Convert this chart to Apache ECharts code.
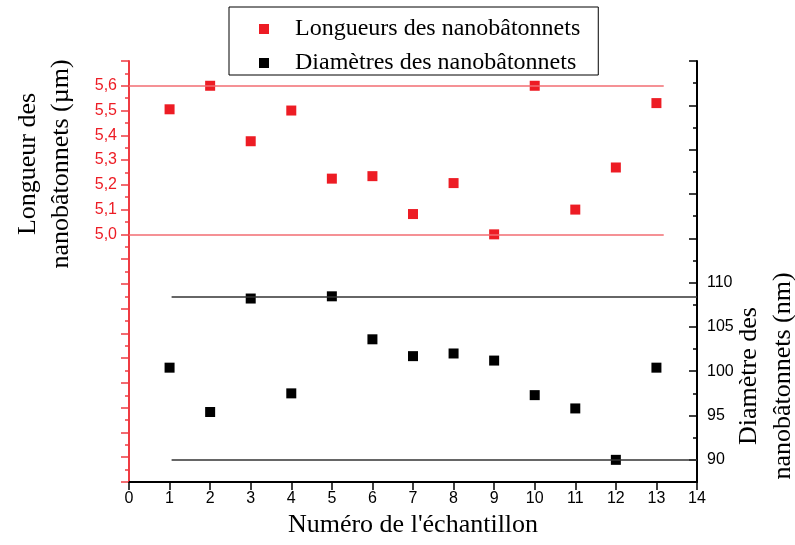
<!DOCTYPE html>
<html>
<head>
<meta charset="utf-8">
<script src="https://cdn.jsdelivr.net/npm/echarts@6/dist/echarts.min.js"></script>
<style>
  html, body { margin: 0; padding: 0; background: #fff; }
  #chart { width: 795px; height: 545px; }
</style>
</head>
<body>
<div id="chart"></div>
<script>
// numéro de l'échantillon
let samples = [1, 2, 3, 4, 5, 6, 7, 8, 9, 10, 11, 12, 13];
// longueur (µm) et diamètre (nm)
let longueurs = [5.505, 5.60, 5.376, 5.50, 5.225, 5.235, 5.082, 5.207, 5.00, 5.60, 5.10, 5.27, 5.53];
let diametres = [100.4, 95.4, 108.2, 97.5, 108.45, 103.6, 101.7, 102.0, 101.2, 97.3, 95.8, 90.0, 100.4];
let diamLabels = [90, 95, 100, 105, 110];
let diamMajorTicks = [90, 95, 100, 105, 110, 115, 120, 125, 130, 135];

let serif = '"Liberation Serif", "Times New Roman", serif';
let sans = '"Liberation Sans", Arial, sans-serif';
let red = '#ed1c24';

let chartDom = document.getElementById('chart');
let myChart = echarts.init(chartDom);

function pairs(xs, ys) {
    var out = [];
    for (var i = 0; i < xs.length; i++) {
        out.push([xs[i], ys[i]]);
    }
    return out;
}

let lMax = Math.max.apply(null, longueurs);
let lMin = Math.min.apply(null, longueurs);
let dMax = Math.max.apply(null, diametres);
let dMin = Math.min.apply(null, diametres);

option = {
    animation: false,
    grid: { left: 129, right: 98, top: 61, bottom: 63 },
    legend: {
        orient: 'vertical',
        left: 229,
        top: 7,
        padding: [10, 18, 0, 30],
        itemGap: 10,
        itemWidth: 10,
        itemHeight: 10,
        borderColor: '#000',
        borderWidth: 1,
        textStyle: {
            fontFamily: serif,
            fontSize: 24,
            color: '#000',
            padding: [0, 0, 0, 21]
        },
        data: [
            { name: 'Longueurs des nanobâtonnets', icon: 'rect' },
            { name: 'Diamètres des nanobâtonnets', icon: 'rect' }
        ]
    },
    xAxis: {
        type: 'value',
        min: 0,
        max: 14,
        interval: 1,
        name: "Numéro de l'échantillon",
        nameLocation: 'middle',
        nameGap: 29,
        nameTextStyle: { fontFamily: serif, fontSize: 26, color: '#000' },
        axisLine: { show: true, lineStyle: { color: '#000', width: 2 } },
        axisTick: { show: true, inside: false, length: 8, lineStyle: { color: '#000', width: 1.5 } },
        axisLabel: { fontFamily: sans, fontSize: 16, color: '#000', margin: 9 },
        splitLine: { show: false }
    },
    yAxis: [
        {
            type: 'value',
            position: 'left',
            min: 4.0,
            max: 5.7,
            interval: 0.1,
            axisLine: { show: true, lineStyle: { color: '#ef3b42', width: 2 } },
            axisTick: { show: true, inside: false, length: 8, lineStyle: { color: '#ef3b42', width: 1.5 } },
            minorTick: { show: true, splitNumber: 2, length: 4, lineStyle: { color: '#ef3b42', width: 1.5 } },
            axisLabel: {
                fontFamily: sans, fontSize: 16, color: red, margin: 12,
                formatter: function (v) {
                    return (v >= 4.99 && v <= 5.61) ? v.toFixed(1).replace('.', ',') : '';
                }
            },
            splitLine: { show: false }
        },
        {
            type: 'value',
            position: 'right',
            min: 87.5,
            max: 135,
            interval: 2.5,
            axisLine: { show: true, lineStyle: { color: '#000', width: 2 } },
            axisTick: { show: true, inside: true, length: 4, lineStyle: { color: '#000', width: 1.5 } },
            axisLabel: { fontFamily: sans, fontSize: 16, color: '#000', margin: 10, customValues: diamLabels },
            splitLine: { show: false }
        },
        {
            type: 'value',
            position: 'right',
            min: 87.5,
            max: 135,
            axisLine: { show: false },
            axisTick: { show: true, inside: true, length: 8, customValues: diamMajorTicks, lineStyle: { color: '#000', width: 1.5 } },
            axisLabel: { show: false },
            splitLine: { show: false }
        }
    ],
    graphic: [
        {
            type: 'text',
            x: 45,
            y: 164,
            rotation: Math.PI / 2,
            style: {
                text: 'Longueur des\nnanobâtonnets (µm)',
                font: '26px ' + serif,
                fill: '#000',
                align: 'center',
                verticalAlign: 'middle',
                lineHeight: 33
            }
        },
        {
            type: 'text',
            x: 766,
            y: 376,
            rotation: Math.PI / 2,
            style: {
                text: 'Diamètre des\nnanobâtonnets (nm)',
                font: '26px ' + serif,
                fill: '#000',
                align: 'center',
                verticalAlign: 'middle',
                lineHeight: 34
            }
        }
    ],
    series: [
        {
            name: 'Longueurs des nanobâtonnets',
            type: 'scatter',
            yAxisIndex: 0,
            symbol: 'rect',
            symbolSize: 10,
            itemStyle: { color: red, opacity: 1 },
            data: pairs(samples, longueurs),
            markLine: {
                silent: true,
                symbol: 'none',
                label: { show: false },
                lineStyle: { color: '#f26d72', width: 1.5, type: 'solid', opacity: 1 },
                data: [
                    [{ coord: [0, lMax] }, { coord: [13.18, lMax] }],
                    [{ coord: [0, lMin] }, { coord: [13.18, lMin] }]
                ]
            }
        },
        {
            name: 'Diamètres des nanobâtonnets',
            type: 'scatter',
            yAxisIndex: 1,
            symbol: 'rect',
            symbolSize: 10,
            itemStyle: { color: '#000', opacity: 1 },
            data: pairs(samples, diametres),
            markLine: {
                silent: true,
                symbol: 'none',
                label: { show: false },
                lineStyle: { color: '#333', width: 1.5, type: 'solid', opacity: 1 },
                data: [
                    [{ coord: [1.05, dMax] }, { coord: [14, dMax] }],
                    [{ coord: [1.05, dMin] }, { coord: [14, dMin] }]
                ]
            }
        }
    ]
};

myChart.setOption(option);
</script>
</body>
</html>
